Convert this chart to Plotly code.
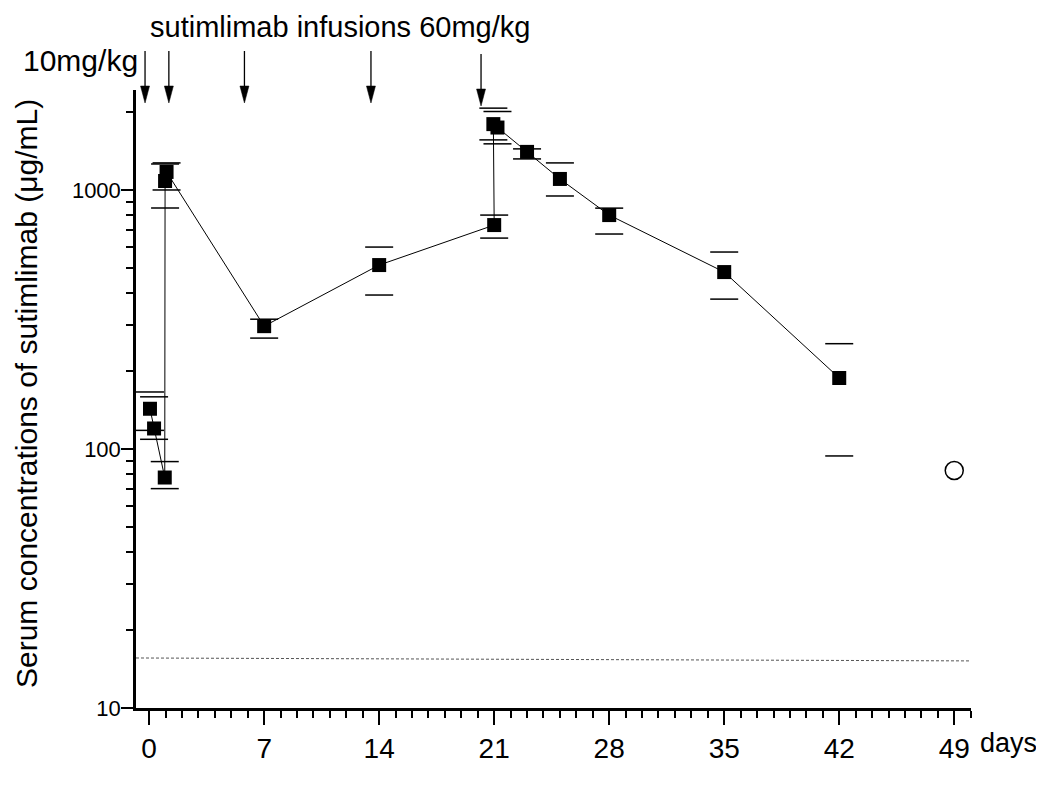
import plotly.graph_objects as go

# ---- data ----
days = [0.05, 0.3, 0.95, 0.97, 1.06, 7, 14, 21.0, 20.95, 21.2, 23, 25, 28, 35, 42]
conc = [143, 120, 77.6, 1083, 1174, 298, 513, 732, 1796, 1742, 1403, 1103, 800, 482, 188]
err_hi = [166, 159, 89.4, 1260, 1272, 317, 602, 800, 2070, 2009, 1441, 1272, 851, 576, 255]
err_lo = [118, 109, 70.3, 852, 1000, 268, 393, 652, 1561, 1507, 1318, 948, 676, 379, 94]

open_day = [49]
open_conc = [82.6]

lloq_days = [-0.8, 50]
lloq_conc = [15.6, 15.2]

infusion_days = [-0.25, 1.2, 5.8, 13.5, 20.2]
x_ticks = [0, 7, 14, 21, 28, 35, 42, 49]
y_ticks = [10, 100, 1000]

W, H = 1044, 789
L, R, T, B = 128, 81, 82, 89
pw, ph = W - L - R, H - T - B
X0, X1 = -0.8, 50.02

def px(xp):
    return (xp - L) / pw

def py(yp):
    return (H - B - yp) / ph

font = "Liberation Sans, Arial, sans-serif"

fig = go.Figure()

fig.add_trace(go.Scatter(
    x=lloq_days, y=lloq_conc, mode="lines",
    line=dict(color="#555555", width=1, dash="3px,2px"),
    hoverinfo="skip", showlegend=False))

fig.add_trace(go.Scatter(
    x=days, y=conc, mode="lines+markers",
    line=dict(color="black", width=1),
    marker=dict(symbol="square", size=14, color="black"),
    showlegend=False))

fig.add_trace(go.Scatter(
    x=days + days, y=err_hi + err_lo, mode="markers",
    marker=dict(symbol="line-ew", size=20, line=dict(color="black", width=1.5)),
    hoverinfo="skip", showlegend=False))

fig.add_trace(go.Scatter(
    x=open_day, y=open_conc, mode="markers",
    marker=dict(symbol="circle-open", size=18, color="black", line=dict(width=1.5)),
    showlegend=False))

# infusion arrows: shaft + narrow filled head
day_per_px = (X1 - X0) / pw
hw = 4.5 * day_per_px
shapes = []
for i, d in enumerate(infusion_days):
    tip = 95 if i < 4 else 98
    y_tip = py(tip)
    y_base = py(tip - 17)
    y_tail = py(tip - 52)
    shapes.append(dict(type="line", xref="x", yref="paper", x0=d, x1=d,
                       y0=y_tail, y1=y_base, line=dict(color="black", width=1.3)))
    shapes.append(dict(type="path", xref="x", yref="paper",
                       path=f"M{d - hw},{y_base} L{d + hw},{y_base} L{d},{y_tip} Z",
                       fillcolor="black", line=dict(color="black", width=0.5)))

annotations = []
annotations.append(dict(
    x=px(140), y=py(19), xref="paper", yref="paper", xanchor="left", yanchor="middle",
    text="sutimlimab infusions 60mg/kg", showarrow=False,
    font=dict(family=font, size=29, color="black")))
annotations.append(dict(
    x=px(13), y=py(53), xref="paper", yref="paper", xanchor="left", yanchor="middle",
    text="10mg/kg", showarrow=False,
    font=dict(family=font, size=30, color="black")))
annotations.append(dict(
    x=px(18), y=py(386), xref="paper", yref="paper", xanchor="center", yanchor="middle",
    text="Serum concentrations of sutimlimab (\u03bcg/mL)", textangle=-90, showarrow=False,
    font=dict(family=font, size=30, color="black")))
annotations.append(dict(
    x=px(970), y=py(735), xref="paper", yref="paper", xanchor="left", yanchor="middle",
    text="days", showarrow=False,
    font=dict(family=font, size=27, color="black")))

fig.update_layout(
    width=W, height=H,
    margin=dict(l=L, r=R, t=T, b=B, autoexpand=False),
    paper_bgcolor="white", plot_bgcolor="white",
    font=dict(family=font, color="black"),
    annotations=annotations, shapes=shapes,
    xaxis=dict(
        range=[X0, X1], tickvals=x_ticks, ticktext=[str(v) for v in x_ticks],
        showgrid=False, zeroline=False, showline=True, linecolor="black", linewidth=2.5,
        ticks="outside", ticklen=14, tickwidth=2, tickcolor="black",
        tickfont=dict(family=font, size=28, color="black"),
        ticklabelstandoff=0,
        minor=dict(dtick=1, tick0=0, ticks="outside", ticklen=7, tickwidth=2,
                   tickcolor="black", showgrid=False)),
    yaxis=dict(
        type="log", range=[1, 3.386], tickvals=y_ticks, ticktext=[str(v) for v in y_ticks],
        showgrid=False, zeroline=False, showline=True, linecolor="black", linewidth=2.5,
        ticks="outside", ticklen=12, tickwidth=2, tickcolor="black",
        tickfont=dict(family=font, size=22, color="black"),
        ticklabelstandoff=-4,
        minor=dict(dtick="D1", ticks="outside", ticklen=7, tickwidth=2,
                   tickcolor="black", showgrid=False)),
)

fig.write_html("out.html")
